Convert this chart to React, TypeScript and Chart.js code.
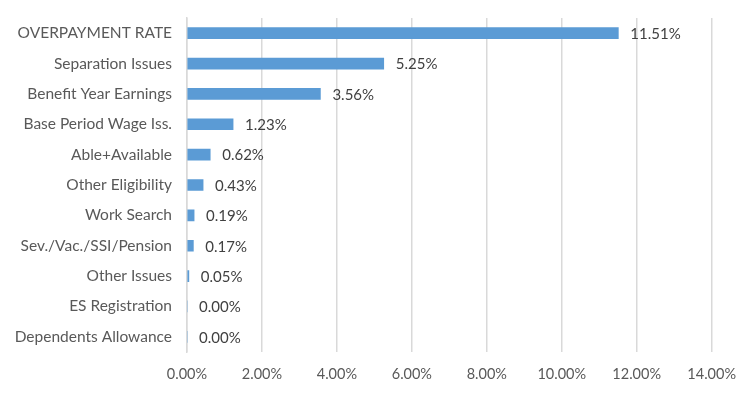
import React, { useEffect, useRef } from "react";
import { Chart, registerables } from "chart.js";

Chart.register(...registerables);

const categories = [
  "OVERPAYMENT RATE",
  "Separation Issues",
  "Benefit Year Earnings",
  "Base Period Wage Iss.",
  "Able+Available",
  "Other Eligibility",
  "Work Search",
  "Sev./Vac./SSI/Pension",
  "Other Issues",
  "ES Registration",
  "Dependents Allowance",
];
const rates = [11.51, 5.25, 3.56, 1.23, 0.62, 0.43, 0.19, 0.17, 0.05, 0.0, 0.0];
const xTicks = [0, 2, 4, 6, 8, 10, 12, 14];

const FONT = "Lato, 'Open Sans', sans-serif";

const labelPlugin = {
  id: "barLabels",
  afterDatasetsDraw(chart: any) {
    const ctx = chart.ctx;
    const meta = chart.getDatasetMeta(0);
    ctx.save();
    ctx.font = `15px ${FONT}`;
    ctx.fillStyle = "#404040";
    ctx.textAlign = "left";
    ctx.textBaseline = "middle";
    meta.data.forEach((bar: any, i: number) => {
      const v = rates[i];
      ctx.fillText(v.toFixed(2) + "%", bar.x + 12, bar.y + 1);
    });
    ctx.restore();
  },
};

export default function App() {
  const ref = useRef<HTMLCanvasElement>(null);
  useEffect(() => {
    if (!ref.current) return;
    const chart = new Chart(ref.current, {
      type: "bar",
      data: {
        labels: categories,
        datasets: [
          {
            data: rates,
            backgroundColor: "#5B9BD5",
            barThickness: 11,
          },
        ],
      },
      options: {
        indexAxis: "y",
        animation: false,
        responsive: false,
        maintainAspectRatio: false,
        layout: { padding: { left: 0, right: 36, top: 18, bottom: 0 } },
        plugins: {
          legend: { display: false },
          tooltip: { enabled: false },
        },
        scales: {
          x: {
            min: 0,
            max: 14,
            afterBuildTicks: (scale: any) => {
              scale.ticks = xTicks.map((v) => ({ value: v }));
            },
            afterFit: (scale: any) => {
              scale.height = 45;
            },
            ticks: {
              color: "#595959",
              font: { family: FONT, size: 14.5 },
              padding: 14,
              callback: (v: any) => Number(v).toFixed(2) + "%",
            },
            grid: { color: "#d9d9d9", lineWidth: 1.5, drawTicks: false },
            border: { display: false },
          },
          y: {
            afterFit: (scale: any) => {
              scale.width = 187;
              scale.paddingTop = 0;
              scale.paddingBottom = 0;
            },
            ticks: {
              color: "#595959",
              font: { family: FONT, size: 15.5 },
              padding: 15,
            },
            grid: { display: false, drawTicks: false },
            border: { display: true, color: "#d9d9d9", width: 1.5 },
          },
        },
      },
      plugins: [labelPlugin],
    });
    return () => chart.destroy();
  }, []);
  return (
    <div style={{ position: "absolute", left: 0, top: 0, width: 750, height: 397, background: "#fff" }}>
      <canvas ref={ref} width={750} height={397} />
    </div>
  );
}
